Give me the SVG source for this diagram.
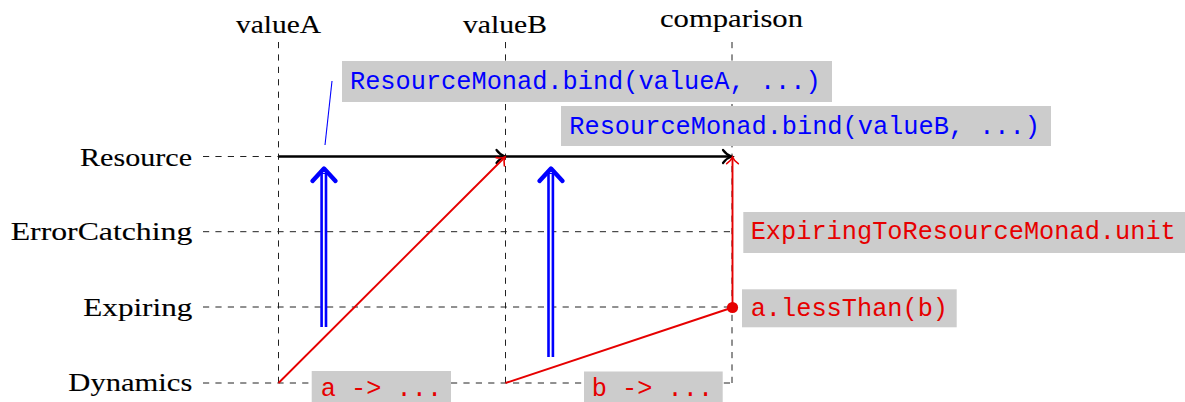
<svg xmlns="http://www.w3.org/2000/svg" width="1185" height="402" viewBox="0 0 1185 402">
  <style>
    .lbl { font-family: "Liberation Serif", "Times New Roman", serif; font-size: 26px; fill: #000; stroke: #000; stroke-width: 0.12; }
    .code { font-family: "Liberation Mono", "Courier New", monospace; font-size: 25.3px; }
    .blue { fill: #0000ff; }
    .red { fill: #e60000; }
    .box { fill: #cccccc; }
    .grid { stroke: #222; stroke-width: 1; stroke-dasharray: 6.2 6.2; fill: none; }
    .res { stroke: #000; stroke-width: 2.5; fill: none; }
    .redline { stroke: #e60000; stroke-width: 1.9; fill: none; }
    .dbl-out { stroke: #0000ff; stroke-width: 7; fill: none; }
    .dbl-in { stroke: #fff; stroke-width: 1.8; fill: none; }
    .dbl-head { stroke: #0000ff; stroke-width: 4.4; fill: none; stroke-linecap: round; stroke-linejoin: round; }
  </style>
  <defs>
    <marker id="to-black" markerUnits="userSpaceOnUse" viewBox="-10 -8 12 16" refX="0" refY="0" markerWidth="12" markerHeight="16" orient="auto" overflow="visible">
      <path d="M -8.5 -6.5 C -6 -3 -3 -1 0 0 C -3 1 -6 3 -8.5 6.5" fill="none" stroke="#000" stroke-width="2.2" stroke-linecap="round"/>
    </marker>
    <marker id="to-red" markerUnits="userSpaceOnUse" viewBox="-10 -8 12 16" refX="0" refY="0" markerWidth="12" markerHeight="16" orient="auto" overflow="visible">
      <path d="M -6.7 -5.8 C -4.5 -2.6 -2.2 -0.9 0 0 C -2.2 0.9 -4.5 2.6 -6.7 5.8" fill="none" stroke="#e60000" stroke-width="1.6" stroke-linecap="round"/>
    </marker>
    <path id="chevron" d="M -11.5 12.5 L 0 0 L 11.5 12.5"/>
  </defs>

  <!-- dashed lanes and columns -->
  <g id="grid">
    <path class="grid" d="M 203 156.5 H 732 M 203 231.7 H 732 M 203 307 H 732 M 203 383 H 732"/>
    <path class="grid" d="M 278.5 42 V 383 M 505.5 42 V 383 M 732 42 V 383"/>
  </g>

  <!-- lane labels -->
  <g id="lane-resource"><text class="lbl" x="80" y="165.5" textLength="112" lengthAdjust="spacingAndGlyphs">Resource</text></g>
  <g id="lane-errorcatching"><text class="lbl" x="10.7" y="240" textLength="181.6" lengthAdjust="spacingAndGlyphs">ErrorCatching</text></g>
  <g id="lane-expiring"><text class="lbl" x="83.3" y="315.5" textLength="109" lengthAdjust="spacingAndGlyphs">Expiring</text></g>
  <g id="lane-dynamics"><text class="lbl" x="68.3" y="391" textLength="124" lengthAdjust="spacingAndGlyphs">Dynamics</text></g>

  <!-- column labels -->
  <g id="col-valueA"><text class="lbl" x="236" y="33" textLength="85" lengthAdjust="spacingAndGlyphs">valueA</text></g>
  <g id="col-valueB"><text class="lbl" x="463" y="33" textLength="84" lengthAdjust="spacingAndGlyphs">valueB</text></g>
  <g id="col-comparison"><text class="lbl" x="660" y="27" textLength="143" lengthAdjust="spacingAndGlyphs">comparison</text></g>

  <!-- connectors -->
  <g id="connectors">
    <line class="res" x1="278.5" y1="156.5" x2="505" y2="156.5" marker-end="url(#to-black)"/>
    <line class="res" x1="505.5" y1="156.5" x2="731.5" y2="156.5" marker-end="url(#to-black)"/>

    <line class="redline" x1="278.5" y1="383" x2="505" y2="157" marker-end="url(#to-red)"/>
    <line class="redline" x1="505.5" y1="383" x2="732.5" y2="307.5"/>
    <line class="redline" x1="732.5" y1="307.5" x2="732.5" y2="157" marker-end="url(#to-red)"/>
    <circle cx="732.5" cy="307.5" r="5.6" fill="#e60000"/>

    <line x1="325" y1="145" x2="332" y2="81" stroke="#0000ff" stroke-width="1.1"/>

    <line class="dbl-out" x1="323.8" y1="327" x2="323.8" y2="173"/>
    <line class="dbl-in" x1="323.8" y1="327" x2="323.8" y2="174"/>
    <use href="#chevron" class="dbl-head" transform="translate(324,168.5)"/>

    <line class="dbl-out" x1="550.7" y1="357" x2="550.7" y2="173"/>
    <line class="dbl-in" x1="550.7" y1="357" x2="550.7" y2="174"/>
    <use href="#chevron" class="dbl-head" transform="translate(551,168.5)"/>
  </g>

  <!-- code labels -->
  <g id="bind-valueA">
    <rect class="box" x="342" y="61" width="490" height="41"/>
    <text class="code blue" x="350" y="88.5">ResourceMonad.bind(valueA, ...)</text>
  </g>
  <g id="bind-valueB">
    <rect class="box" x="561" y="106" width="490" height="40"/>
    <text class="code blue" x="569.3" y="133.5">ResourceMonad.bind(valueB, ...)</text>
  </g>
  <g id="unit">
    <rect class="box" x="743.3" y="212" width="442" height="41"/>
    <text class="code red" x="750.7" y="238.5">ExpiringToResourceMonad.unit</text>
  </g>
  <g id="lessthan">
    <rect class="box" x="742" y="289.3" width="214.7" height="38"/>
    <text class="code red" x="750.7" y="315.8">a.lessThan(b)</text>
  </g>
  <g id="lambda-a">
    <rect class="box" x="311.7" y="371" width="139.3" height="40"/>
    <text class="code red" x="320.7" y="395.5">a -&gt; ...</text>
  </g>
  <g id="lambda-b">
    <rect class="box" x="584" y="371.5" width="138.7" height="40"/>
    <text class="code red" x="591.7" y="395.5">b -&gt; ...</text>
  </g>
</svg>
